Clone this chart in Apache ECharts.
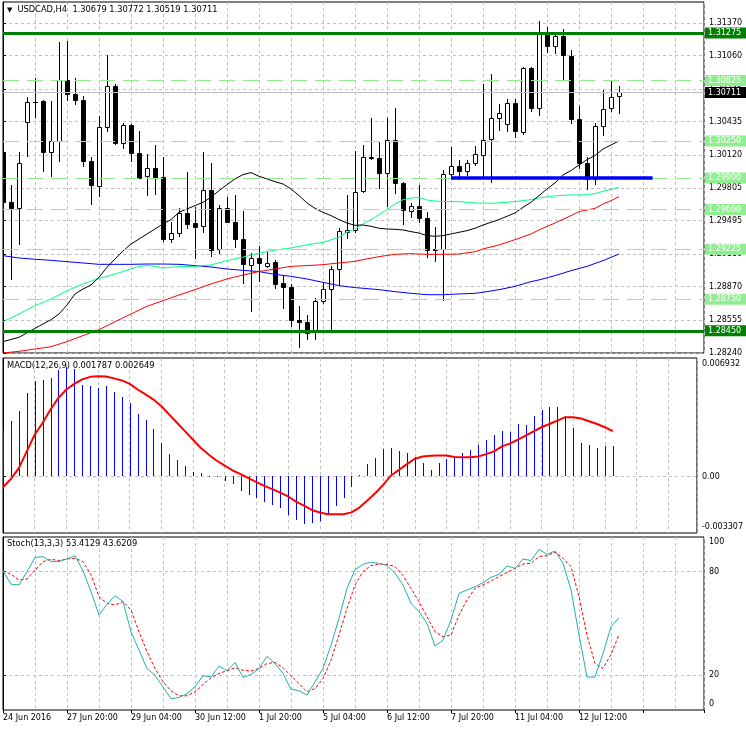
<!DOCTYPE html>
<html>
<head>
<meta charset="utf-8">
<script src="https://cdn.jsdelivr.net/npm/echarts@6/dist/echarts.min.js"></script>
<style>html,body{margin:0;padding:0;background:#fff}#c{width:746px;height:731px}</style>
</head>
<body>
<div id="c"></div>
<script>
// ---------------- DATA ----------------
const symbolName = 'USDCAD,H4';
const xLabels = ['24 Jun 2016','27 Jun 20:00','29 Jun 04:00','30 Jun 12:00','1 Jul 20:00','5 Jul 04:00','6 Jul 12:00','7 Jul 20:00','11 Jul 04:00','12 Jul 12:00'];

// [open, high, low, close] per H4 bar
const ohlc = [
[1.30150,1.30580,1.29559,1.29669],[1.29676,1.29837,1.28942,1.29612],[1.29612,1.30150,1.29271,1.30046],[1.30428,1.30665,1.30106,1.30621],
[1.30625,1.30852,1.30482,1.30620],[1.30634,1.30640,1.29970,1.30144],[1.30144,1.30634,1.29922,1.30251],[1.30248,1.31187,1.30065,1.30833],
[1.30833,1.31197,1.30643,1.30694],[1.30700,1.30846,1.30605,1.30637],[1.30643,1.30681,1.30011,1.30058],[1.30065,1.30096,1.29650,1.29831],
[1.29821,1.30491,1.29726,1.30387],[1.30381,1.31070,1.30343,1.30776],[1.30776,1.30792,1.30223,1.30229],[1.30232,1.30422,1.30182,1.30406],
[1.30406,1.30412,1.30065,1.30137],[1.30137,1.30349,1.29897,1.29903],[1.29919,1.30128,1.29742,1.29995],[1.29995,1.30213,1.29745,1.29900],
[1.29910,1.30099,1.29302,1.29321],[1.29321,1.29480,1.29290,1.29378],[1.29378,1.29619,1.29347,1.29568],[1.29568,1.29960,1.29423,1.29461],
[1.29473,1.29628,1.29138,1.29432],[1.29442,1.30150,1.29385,1.29789],[1.29789,1.30039,1.29163,1.29220],[1.29223,1.29644,1.29186,1.29615],
[1.29615,1.29723,1.29478,1.29480],[1.29486,1.29739,1.29242,1.29321],[1.29321,1.29590,1.28901,1.29081],[1.29075,1.29189,1.28638,1.29141],
[1.29141,1.29258,1.28926,1.29094],[1.29062,1.29208,1.29053,1.29097],[1.29106,1.29122,1.28853,1.28891],[1.28907,1.28983,1.28664,1.28863],
[1.28869,1.28895,1.28493,1.28550],[1.28556,1.28689,1.28294,1.28534],[1.28537,1.28604,1.28373,1.28430],[1.28439,1.28762,1.28373,1.28733],
[1.28730,1.28910,1.28714,1.28847],[1.28844,1.29062,1.28452,1.29037],[1.29034,1.29429,1.28891,1.29397],[1.29385,1.29742,1.29328,1.29410],
[1.29410,1.30159,1.29385,1.29770],[1.29774,1.30216,1.29764,1.30099],[1.30093,1.30469,1.30080,1.30099],[1.30090,1.30245,1.29802,1.29944],
[1.29947,1.30466,1.29631,1.30264],[1.30264,1.30561,1.29755,1.29849],[1.29856,1.29859,1.29461,1.29593],[1.29587,1.29660,1.29530,1.29634],
[1.29638,1.29837,1.29480,1.29517],[1.29524,1.29581,1.29148,1.29214],[1.29227,1.29438,1.29110,1.29214],[1.29227,1.29979,1.28746,1.29938],
[1.29935,1.30197,1.29891,1.30014],[1.30014,1.30074,1.29891,1.29963],[1.29967,1.30071,1.29929,1.30046],[1.30039,1.30200,1.30020,1.30131],
[1.30118,1.30792,1.29900,1.30261],[1.30270,1.30887,1.29859,1.30469],[1.30466,1.30602,1.30352,1.30517],[1.30412,1.30650,1.30349,1.30612],
[1.30612,1.30650,1.30286,1.30343],[1.30336,1.30956,1.30317,1.30944],[1.30940,1.30950,1.30539,1.30561],[1.30564,1.31393,1.30498,1.31276],
[1.31276,1.31336,1.31092,1.31149],[1.31152,1.31288,1.31083,1.31244],[1.31247,1.31314,1.30836,1.31064],[1.31061,1.31114,1.30419,1.30457],
[1.30463,1.30586,1.29992,1.30039],[1.30046,1.30096,1.29793,1.29891],[1.29891,1.30422,1.29840,1.30397],[1.30393,1.30738,1.30311,1.30555],
[1.30564,1.30820,1.30539,1.30669],[1.30679,1.30772,1.30519,1.30711]
];

// moving averages: [bar, value]
const maBlack = [[0,1.28348],[2,1.28389],[4,1.28474],[6,1.28556],[7,1.28610],[8,1.28695],[9,1.28800],[10,1.28847],[11,1.28885],[12,1.28958],[13,1.29053],[14,1.29132],[15,1.29208],[16,1.29274],[17,1.29321],[18,1.29369],[19,1.29416],[20,1.29464],[21,1.29505],[22,1.29574],[23,1.29606],[24,1.29638],[25,1.29669],[26,1.29717],[27,1.29780],[28,1.29837],[29,1.29891],[30,1.29932],[31,1.29951],[32,1.29916],[33,1.29891],[34,1.29865],[35,1.29843],[36,1.29796],[37,1.29733],[38,1.29663],[39,1.29612],[40,1.29574],[41,1.29543],[42,1.29505],[43,1.29473],[44,1.29451],[45,1.29454],[46,1.29442],[47,1.29423],[48,1.29416],[49,1.29413],[50,1.29407],[51,1.29391],[52,1.29378],[53,1.29353],[54,1.29347],[55,1.29353],[56,1.29369],[57,1.29385],[58,1.29401],[59,1.29423],[60,1.29454],[61,1.29480],[62,1.29505],[63,1.29537],[64,1.29568],[65,1.29622],[66,1.29669],[67,1.29733],[68,1.29796],[69,1.29853],[70,1.29929],[71,1.29970],[72,1.30023],[73,1.30074],[74,1.30112],[75,1.30175],[76,1.30213],[77,1.30251]];
const maGreen = [[0,1.28537],[2,1.28610],[4,1.28689],[6,1.28752],[8,1.28831],[10,1.28895],[12,1.28948],[14,1.28989],[16,1.29037],[17,1.29062],[18,1.29069],[19,1.29062],[20,1.29046],[21,1.29053],[22,1.29059],[24,1.29062],[26,1.29075],[28,1.29116],[30,1.29150],[32,1.29186],[34,1.29217],[36,1.29236],[38,1.29265],[40,1.29290],[42,1.29337],[43,1.29385],[44,1.29416],[45,1.29464],[46,1.29505],[47,1.29552],[48,1.29600],[49,1.29653],[50,1.29695],[51,1.29710],[52,1.29714],[53,1.29691],[54,1.29682],[55,1.29676],[57,1.29676],[59,1.29663],[61,1.29660],[63,1.29669],[65,1.29685],[66,1.29695],[67,1.29710],[68,1.29720],[69,1.29729],[70,1.29736],[71,1.29739],[72,1.29739],[73,1.29742],[74,1.29752],[75,1.29774],[76,1.29793],[77,1.29812]];
const maRed = [[0,1.28240],[2,1.28256],[4,1.28278],[6,1.28300],[8,1.28348],[10,1.28405],[12,1.28461],[14,1.28537],[16,1.28610],[18,1.28683],[20,1.28736],[22,1.28790],[24,1.28841],[26,1.28895],[28,1.28942],[30,1.28980],[32,1.29012],[34,1.29037],[36,1.29062],[38,1.29069],[40,1.29078],[42,1.29094],[44,1.29110],[45,1.29125],[47,1.29154],[49,1.29176],[51,1.29182],[53,1.29176],[55,1.29176],[57,1.29179],[59,1.29201],[60,1.29227],[62,1.29265],[64,1.29315],[66,1.29369],[67,1.29407],[69,1.29473],[71,1.29543],[72,1.29581],[73,1.29597],[74,1.29612],[75,1.29653],[76,1.29685],[77,1.29723]];
const maBlue = [[0,1.29163],[2,1.29141],[4,1.29129],[6,1.29119],[8,1.29106],[10,1.29094],[12,1.29081],[14,1.29081],[16,1.29081],[18,1.29084],[20,1.29084],[22,1.29081],[24,1.29069],[26,1.29056],[28,1.29037],[30,1.29024],[32,1.29012],[34,1.28986],[36,1.28967],[38,1.28942],[40,1.28910],[42,1.28879],[44,1.28860],[45,1.28854],[47,1.28841],[49,1.28822],[51,1.28806],[53,1.28793],[55,1.28793],[57,1.28800],[59,1.28806],[60,1.28816],[62,1.28841],[64,1.28872],[66,1.28917],[67,1.28933],[69,1.28974],[71,1.29021],[73,1.29062],[75,1.29116],[77,1.29179]];

// horizontal levels
const levelMajor = [1.31275, 1.28450];
const levelMinor = [1.30825, 1.30250, 1.29900, 1.29600, 1.29225, 1.28750];
const trendLine = [[56, 1.29900], [81.2, 1.29900]];

// price axis ticks
const priceTicks = [1.28240,1.28555,1.28870,1.29180,1.29495,1.29805,1.30120,1.30435,1.30745,1.31060,1.31370];

// MACD(12,26,9)
const macdHist = [0.00274,0.00323,0.00386,0.00486,0.00558,0.00562,0.00574,0.00621,0.00640,0.00627,
0.00538,0.00529,0.00515,0.00529,0.00493,0.00466,0.00427,0.00368,0.00329,0.00280,
0.00198,0.00133,0.00098,0.00063,0.00029,0.00020,-0.00004,-0.00004,-0.00025,-0.00045,
-0.00084,-0.00108,-0.00127,-0.00147,-0.00166,-0.00182,-0.00225,-0.00255,-0.00280,-0.00274,
-0.00258,-0.00221,-0.00172,-0.00123,-0.00059,0.00006,0.00074,0.00108,0.00163,0.00168,
0.00151,0.00139,0.00114,0.00076,0.00039,0.00076,0.00104,0.00114,0.00139,0.00157,
0.00182,0.00215,0.00245,0.00268,0.00262,0.00309,0.00303,0.00356,0.00388,0.00409,
0.00409,0.00356,0.00282,0.00198,0.00182,0.00168,0.00176,0.001787];
const macdSignal = [-0.00063,-0.00014,0.00049,0.00147,0.00245,0.00313,0.00392,0.00460,0.00509,0.00542,
0.00568,0.00583,0.00587,0.00585,0.00574,0.00562,0.00542,0.00509,0.00480,0.00450,
0.00411,0.00362,0.00313,0.00264,0.00215,0.00166,0.00127,0.00092,0.00063,0.00035,
0.00014,-0.00010,-0.00033,-0.00055,-0.00074,-0.00094,-0.00117,-0.00147,-0.00170,-0.00196,
-0.00211,-0.00221,-0.00221,-0.00221,-0.00210,-0.00182,-0.00141,-0.00098,-0.00049,0.00006,
0.00039,0.00072,0.00104,0.00117,0.00121,0.00123,0.00123,0.00114,0.00112,0.00112,
0.00117,0.00131,0.00147,0.00176,0.00192,0.00215,0.00239,0.00264,0.00288,0.00307,
0.00327,0.00347,0.00347,0.00339,0.00323,0.00307,0.00288,0.002649];
const macdAxisVals = [0.006932, 0, -0.003307];
const macdAxisText = ['0.006932', '0.00', '-0.003307'];

// Stoch(13,3,3)
const stochMain = [80.4,72.7,72.3,80.0,88.1,88.7,85.8,85.8,87.3,89.2,
80.4,68.4,54.9,61.1,66.1,62.7,45.2,34.6,24.0,20.1,
13.4,6.6,7.2,9.5,13.4,19.8,19.2,25.4,22.7,27.5,
18.8,20.5,24.0,31.0,26.9,21.1,12.0,11.1,8.6,16.3,
24.0,37.5,53.0,70.3,81.1,84.2,85.4,84.8,83.5,79.0,
72.3,61.6,56.8,50.1,36.9,40.4,52.0,67.4,69.4,71.3,
73.6,76.7,78.4,83.3,81.9,87.3,86.4,92.9,90.0,91.9,
84.8,69.4,43.3,19.0,19.0,32.7,48.1,53.4129];
const stochSignal = [80.4,78.4,75.2,75.7,80.9,85.8,87.1,86.4,87.3,87.7,
85.8,78.1,65.5,61.6,60.7,62.7,57.8,45.2,33.7,24.0,
16.3,11.1,8.2,8.2,10.5,14.7,18.6,21.1,22.7,24.4,
23.0,22.5,24.0,26.9,27.5,24.4,19.8,15.3,10.5,12.4,
18.2,28.8,43.3,58.8,72.3,80.0,83.5,84.2,84.2,82.9,
77.7,70.3,62.6,53.9,45.2,42.4,43.3,54.9,63.6,70.3,
72.3,74.6,77.1,79.6,81.9,84.4,84.8,88.7,89.2,91.2,
87.7,82.9,65.5,43.3,26.9,24.0,32.1,43.6209];
const stochAxisVals = [100, 80, 20, 0];
const stochLevels = [20, 80];

// ---------------- LAYOUT / STYLE ----------------
const FONT = 'DejaVu Sans';
const GRID_COLOR = '#c0c0c0';
const X_MAX = 87.625;
const P_MIN = 1.28240, P_MAX = 1.315692;
const M_MIN = -0.003307, M_MAX = 0.006932;
const grids = [
  {left: 3, right: 42, top: 2, height: 351},
  {left: 3, right: 42, top: 358, height: 175},
  {left: 3, right: 42, top: 537, height: 173}
].map(g => Object.assign(g, {show: true, borderColor: '#000', borderWidth: 1, backgroundColor: '#fff'}));

function insetPositions(vals, min, max, hPx, topPx, botPx) {
  const u = (max - min) / hPx;
  return vals.map(v => v >= max ? max - topPx * u : (v <= min ? min + botPx * u : v));
}
function nearestText(positions, texts) {
  return function (v) {
    let best = 0;
    for (let i = 1; i < positions.length; i++) {
      if (Math.abs(positions[i] - v) < Math.abs(positions[best] - v)) best = i;
    }
    return texts[best];
  };
}
const macdLabelPos = insetPositions(macdAxisVals, M_MIN, M_MAX, 175, 6, 6);
const stochLabelPos = insetPositions(stochAxisVals, 0, 100, 173, 5, 6.5);

function xAxisCfg(idx, showLabels) {
  return {
    type: 'value', gridIndex: idx, min: 0, max: X_MAX, interval: 8,
    axisLine: {show: false},
    axisTick: {show: showLabels, length: 3, lineStyle: {color: '#000'}},
    minorTick: {show: false, splitNumber: 2},
    splitLine: {show: true, lineStyle: {color: GRID_COLOR, type: [3, 3], width: 1}},
    minorSplitLine: {show: true, lineStyle: {color: GRID_COLOR, type: [3, 3], width: 1}},
    axisLabel: {
      show: showLabels, align: 'left', margin: 4, fontSize: 8, color: '#000', fontFamily: FONT,
      formatter: v => { const i = Math.round(v / 8); return (Math.abs(v - i * 8) < 1e-6 && xLabels[i]) ? xLabels[i] : ''; }
    }
  };
}
const yLabelBase = {fontSize: 8, color: '#000', fontFamily: FONT, margin: 5};

function renderCandle(params, api) {
  const i = api.value(0), o = api.value(1), h = api.value(2), l = api.value(3), c = api.value(4);
  const pO = api.coord([i, o]), pC = api.coord([i, c]), pH = api.coord([i, h]), pL = api.coord([i, l]);
  const X = Math.round(pO[0]);
  const yH = Math.round(pH[1]), yL = Math.round(pL[1]);
  const yT = Math.round(Math.min(pO[1], pC[1])), yB = Math.round(Math.max(pO[1], pC[1]));
  const bull = c >= o;
  const children = [{type: 'line', shape: {x1: X + 0.5, y1: yH, x2: X + 0.5, y2: yL + 1}, style: {stroke: '#000', lineWidth: 1}}];
  if (yB - yT < 1) {
    children.push({type: 'line', shape: {x1: X - 2, y1: yT + 0.5, x2: X + 3, y2: yT + 0.5}, style: {stroke: '#000', lineWidth: 1}});
  } else {
    children.push({type: 'rect', shape: {x: X - 1.5, y: yT + 0.5, width: 4, height: yB - yT}, style: {fill: bull ? '#fff' : '#000', stroke: '#000', lineWidth: 1}});
  }
  return {type: 'group', children};
}
function renderHist(params, api) {
  const i = api.value(0), v = api.value(1);
  const p0 = api.coord([i, 0]), p1 = api.coord([i, v]);
  const X = Math.round(p0[0]) + 0.5;
  return {type: 'line', shape: {x1: X, y1: Math.round(p0[1]), x2: X, y2: Math.round(p1[1])}, style: {stroke: '#0000ff', lineWidth: 1}};
}
function levelLabel(bg) {
  return {
    show: true, position: 'end', distance: 1, color: '#fff', backgroundColor: bg,
    fontSize: 8, fontFamily: FONT, padding: [1, 6, 1, 3], lineHeight: 9,
    formatter: p => Number(p.value).toFixed(5)
  };
}
function maSeries(data, color) {
  return {type: 'line', xAxisIndex: 0, yAxisIndex: 0, data: data, showSymbol: false, symbol: 'none',
    lineStyle: {color: color, width: 1}, z: 3, silent: true, animation: false};
}

const last = ohlc[ohlc.length - 1];
const lastClose = last[3];
const titleMain = '{t|▼}' + symbolName + '  ' + last.map(v => v.toFixed(5)).join(' ');
const titleMacd = 'MACD(12,26,9) ' + macdHist[macdHist.length - 1].toFixed(6) + ' ' + macdSignal[macdSignal.length - 1].toFixed(6);
const titleStoch = 'Stoch(13,3,3) ' + stochMain[stochMain.length - 1].toFixed(4) + ' ' + stochSignal[stochSignal.length - 1].toFixed(4);
const titleStyle = {fontSize: 8.3, fontWeight: 'normal', color: '#000', fontFamily: FONT};

const option = {
  animation: false,
  backgroundColor: '#fff',
  textStyle: {fontFamily: FONT},
  title: [
    {text: titleMain, left: 7, top: 6, padding: 0, textStyle: Object.assign({}, titleStyle, {rich: {t: {fontSize: 7, padding: [0, 5, 0, 0], color: '#000', fontFamily: FONT}}})},
    {text: titleMacd, left: 7, top: 362, padding: 0, textStyle: titleStyle},
    {text: titleStoch, left: 7, top: 540, padding: 0, textStyle: titleStyle}
  ],
  grid: grids,
  xAxis: [xAxisCfg(0, false), xAxisCfg(1, false), xAxisCfg(2, true)],
  yAxis: [
    {type: 'value', gridIndex: 0, position: 'right', min: P_MIN, max: P_MAX,
      axisLine: {show: true, lineStyle: {color: '#000'}},
      axisTick: {show: true, length: 3, customValues: priceTicks, lineStyle: {color: '#000'}},
      axisLabel: Object.assign({customValues: priceTicks, formatter: v => v.toFixed(5)}, yLabelBase),
      splitLine: {show: true, lineStyle: {color: GRID_COLOR, type: [3, 3], width: 1}}},
    {type: 'value', gridIndex: 1, position: 'right', min: M_MIN, max: M_MAX,
      axisLine: {show: true, lineStyle: {color: '#000'}},
      axisTick: {show: true, length: 3, customValues: [0], lineStyle: {color: '#000'}},
      axisLabel: Object.assign({customValues: macdLabelPos, formatter: nearestText(macdLabelPos, macdAxisText)}, yLabelBase),
      splitLine: {show: true, lineStyle: {color: GRID_COLOR, type: [3, 3], width: 1}}},
    {type: 'value', gridIndex: 2, position: 'right', min: 0, max: 100,
      axisLine: {show: true, lineStyle: {color: '#000'}},
      axisTick: {show: true, length: 3, customValues: stochLevels, lineStyle: {color: '#000'}},
      axisLabel: Object.assign({customValues: stochLabelPos, formatter: nearestText(stochLabelPos, stochAxisVals.map(String))}, yLabelBase),
      splitLine: {show: true, lineStyle: {color: GRID_COLOR, type: [3, 3], width: 1}}}
  ],
  series: [
    {type: 'custom', name: 'candles', xAxisIndex: 0, yAxisIndex: 0, clip: true, z: 2, silent: true,
      data: ohlc.map((d, i) => [i, d[0], d[1], d[2], d[3]]),
      encode: {x: 0, y: [1, 2, 3, 4]}, renderItem: renderCandle},
    maSeries(maBlue, '#0000ff'),
    maSeries(maRed, '#ff0000'),
    maSeries(maGreen, '#00ff7f'),
    maSeries(maBlack, '#000000'),
    {type: 'line', name: 'levels', xAxisIndex: 0, yAxisIndex: 0, data: [], showSymbol: false, symbol: 'none',
      z: 4, silent: true,
      markLine: {
        symbol: ['none', 'none'], silent: true, animation: false, precision: 5,
        data: [
          ...levelMinor.map(v => ({yAxis: v, lineStyle: {color: '#90ee90', width: 1, type: [16, 8]}, label: levelLabel('#90ee90')})),
          ...levelMajor.map(v => ({yAxis: v, lineStyle: {color: '#008000', width: 3, type: 'solid'}, label: levelLabel('#008000')})),
          {yAxis: lastClose, lineStyle: {color: '#c0c0c0', width: 1, type: 'solid'}, label: levelLabel('#000000')}
        ]
      }},
    {type: 'line', name: 'trend', xAxisIndex: 0, yAxisIndex: 0, data: trendLine, showSymbol: false, symbol: 'none',
      lineStyle: {color: '#0000ff', width: 3.5}, z: 5, silent: true},
    {type: 'custom', name: 'macdHist', xAxisIndex: 1, yAxisIndex: 1, clip: true, silent: true,
      data: macdHist.map((v, i) => [i, v]), encode: {x: 0, y: 1}, renderItem: renderHist},
    {type: 'line', name: 'macdSignal', xAxisIndex: 1, yAxisIndex: 1, data: macdSignal.map((v, i) => [i, v]),
      showSymbol: false, symbol: 'none', lineStyle: {color: '#ff0000', width: 2}, z: 3, silent: true},
    {type: 'line', name: 'stochSignal', xAxisIndex: 2, yAxisIndex: 2, data: stochSignal.map((v, i) => [i, v]),
      showSymbol: false, symbol: 'none', lineStyle: {color: '#ff0000', width: 1, type: [3, 2]}, z: 3, silent: true},
    {type: 'line', name: 'stochMain', xAxisIndex: 2, yAxisIndex: 2, data: stochMain.map((v, i) => [i, v]),
      showSymbol: false, symbol: 'none', lineStyle: {color: '#20b2aa', width: 1}, z: 3, silent: true}
  ]
};

const chart = echarts.init(document.getElementById('c'), null, {renderer: 'canvas'});
chart.setOption(option);
</script>
</body>
</html>
